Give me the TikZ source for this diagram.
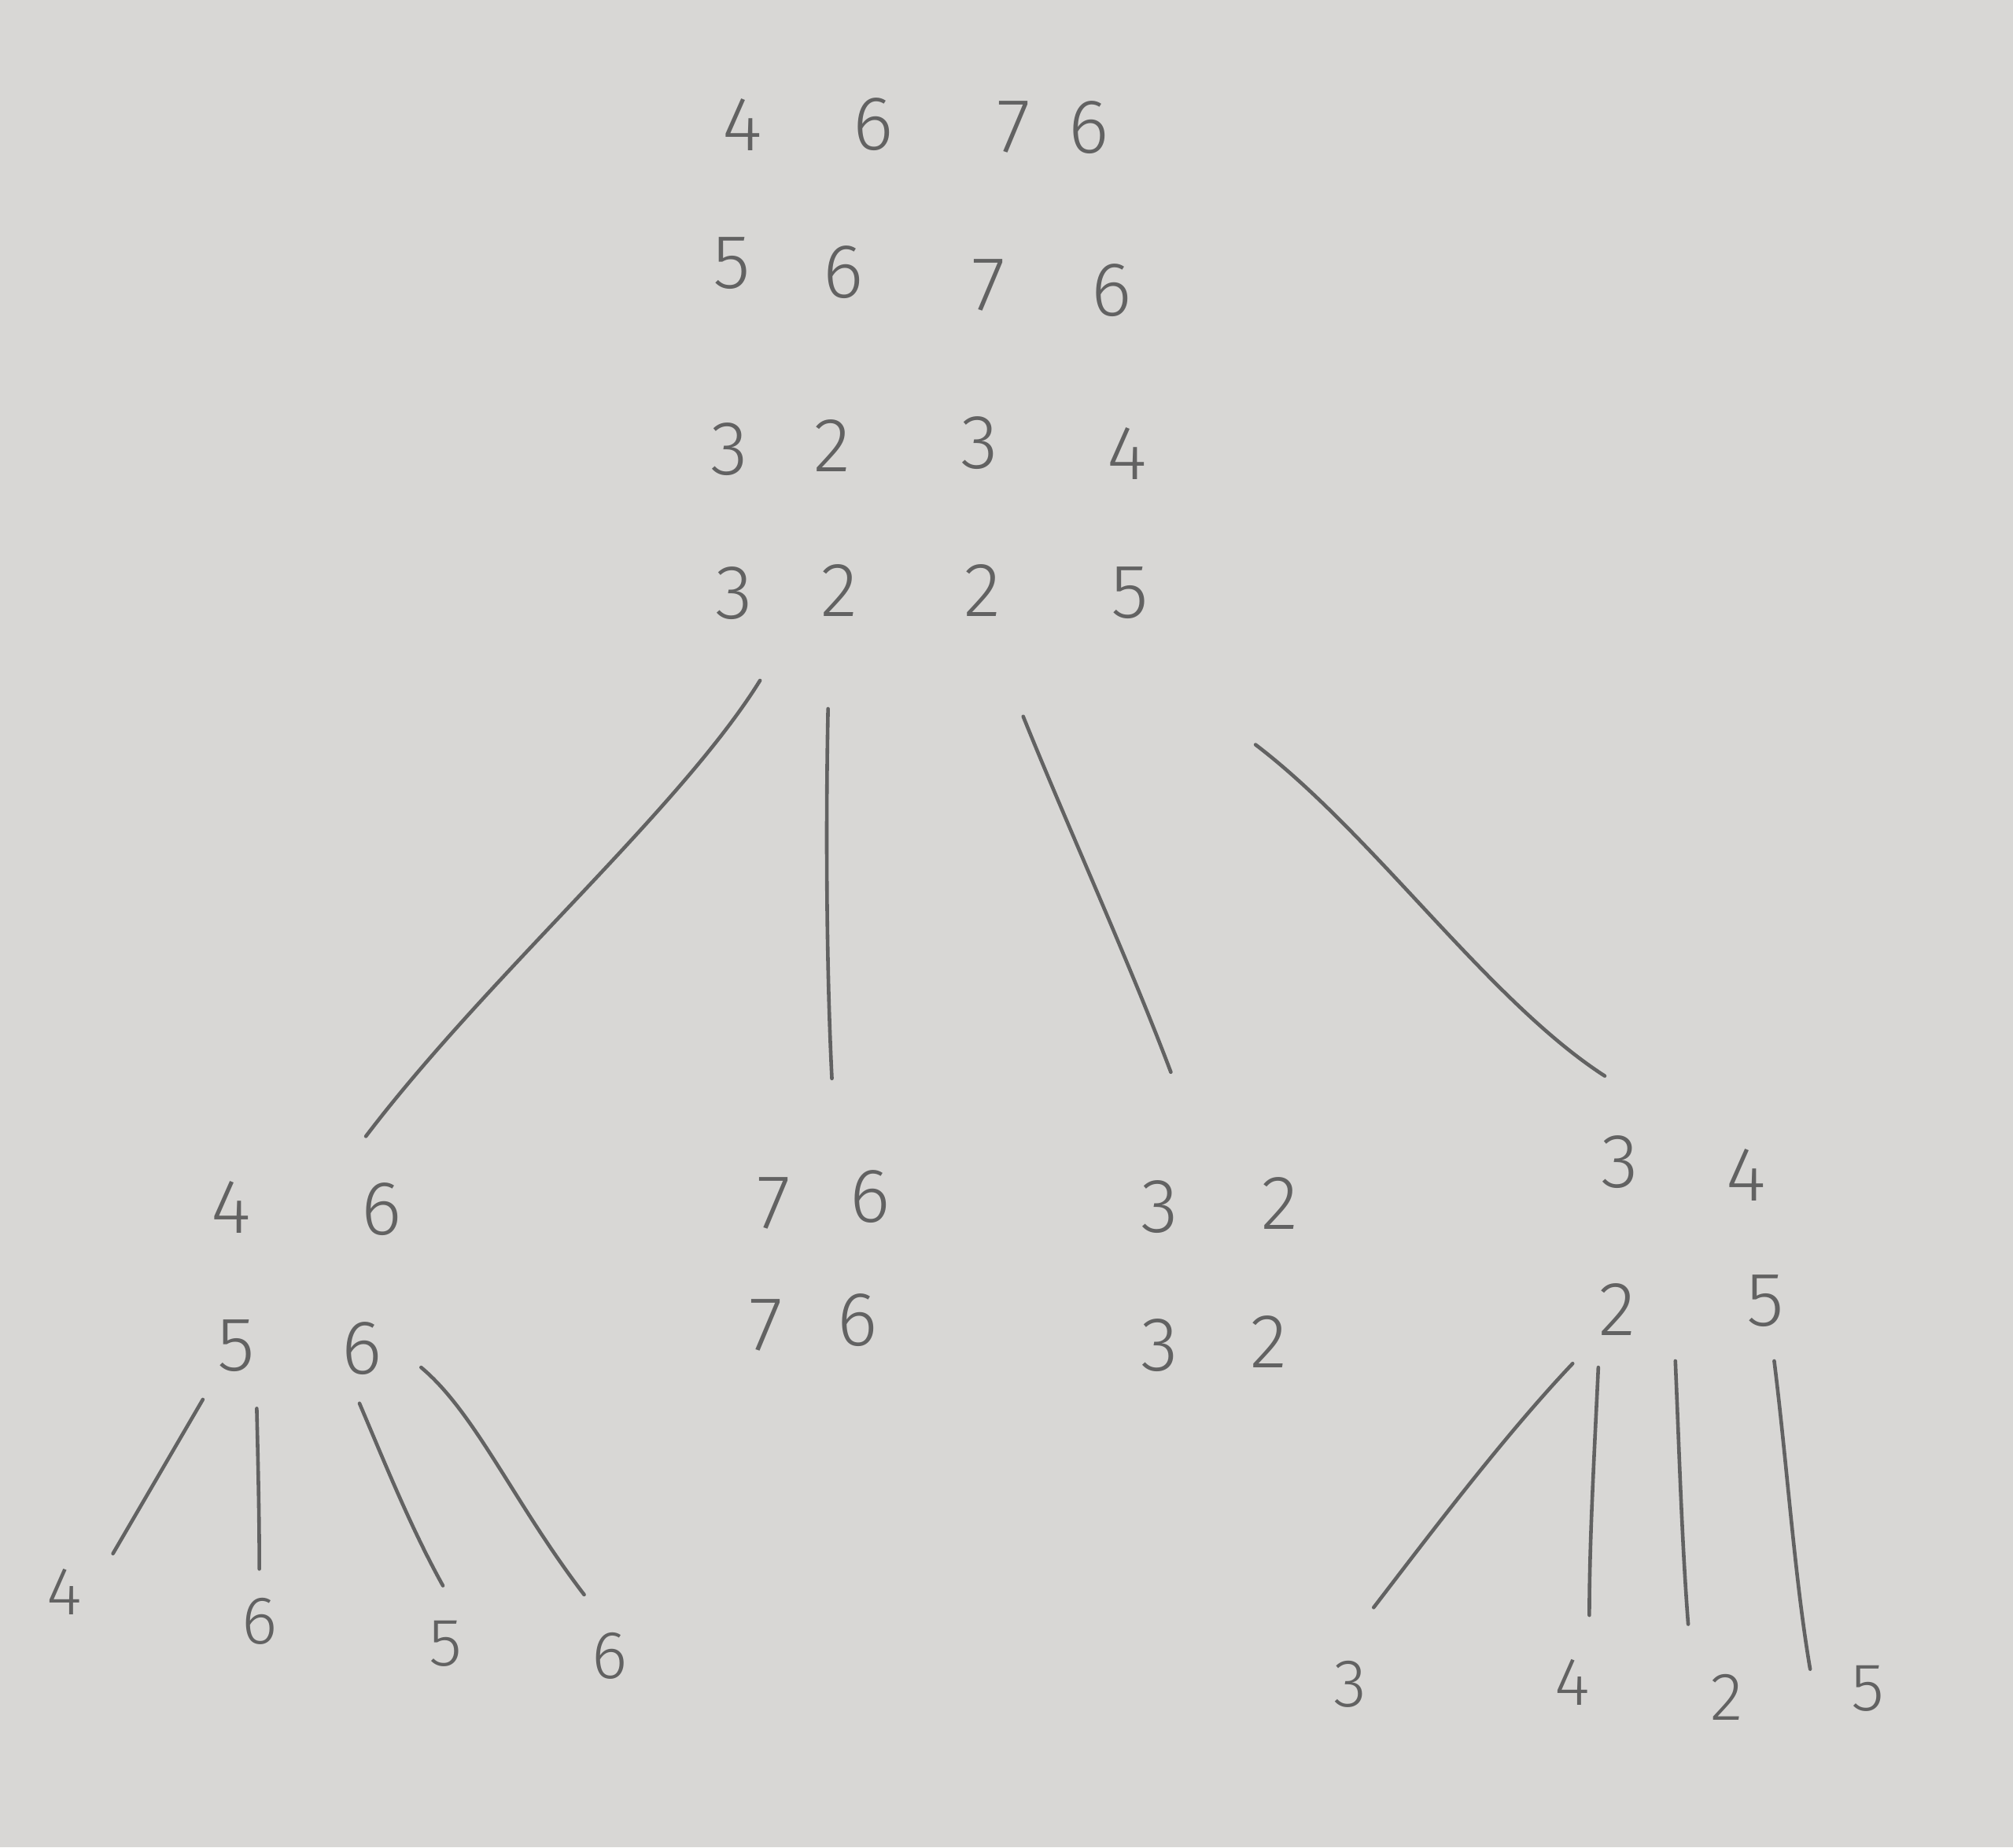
\documentclass[tikz,border=0pt]{standalone}
\usepackage{fontspec}
\setmainfont{Fira Sans Light}
\definecolor{paper}{HTML}{D8D7D5}
\definecolor{pencil}{HTML}{626262}
\begin{document}
\begin{tikzpicture}[x=0.01cm,y=-0.01cm,
  dig/.style={text=pencil,font=\fontsize{17}{17}\selectfont,inner sep=0pt},
  leaf/.style={text=pencil,font=\fontsize{15}{15}\selectfont,inner sep=0pt},
  edge/.style={draw=pencil,line width=0.8pt,line cap=round}]
\fill[paper] (0,0) rectangle (1568,1439);
\useasboundingbox (0,0) rectangle (1568,1439);
% root matrix
\node[dig] (r11) at (578,97) {4};
\node[dig] (r12) at (680,97) {6};
\node[dig] (r13) at (790,99) {7};
\node[dig] (r14) at (848,99) {6};
\node[dig] (r21) at (570,205) {5};
\node[dig] (r22) at (657,212) {6};
\node[dig] (r23) at (770,222) {7};
\node[dig] (r24) at (866,226) {6};
\node[dig] (r31) at (568,350) {3};
\node[dig] (r32) at (648,347) {2};
\node[dig] (r33) at (763,345) {3};
\node[dig] (r34) at (878,353) {4};
\node[dig] (r41) at (572,462) {3};
\node[dig] (r42) at (654,460) {2};
\node[dig] (r43) at (765,460) {2};
\node[dig] (r44) at (880,462) {5};
% child 1
\node[dig] (a11) at (180,940) {4};
\node[dig] (a12) at (297,942) {6};
\node[dig] (a21) at (184,1048) {5};
\node[dig] (a22) at (282,1050) {6};
% child 2
\node[dig] (b11) at (603,937) {7};
\node[dig] (b12) at (678,932) {6};
\node[dig] (b21) at (597,1032) {7};
\node[dig] (b22) at (668,1028) {6};
% child 3
\node[dig] (c11) at (903,940) {3};
\node[dig] (c12) at (997,937) {2};
\node[dig] (c21) at (903,1048) {3};
\node[dig] (c22) at (988,1045) {2};
% child 4
\node[dig] (d11) at (1262,905) {3};
\node[dig] (d12) at (1360,915) {4};
\node[dig] (d21) at (1260,1020) {2};
\node[dig] (d22) at (1375,1013) {5};
% leaves of child 1
\node[leaf] (e1) at (50,1240) {4};
\node[leaf] (e2) at (202,1263) {6};
\node[leaf] (e3) at (347,1280) {5};
\node[leaf] (e4) at (475,1290) {6};
% leaves of child 4
\node[leaf] (f1) at (1052,1312) {3};
\node[leaf] (f2) at (1225,1310) {4};
\node[leaf] (f3) at (1345,1322) {2};
\node[leaf] (f4) at (1455,1315) {5};
% connector end points
\coordinate (p1) at (592,530); \coordinate (q1) at (285,885);
\coordinate (p2) at (645,552); \coordinate (q2) at (648,840);
\coordinate (p3) at (797,558); \coordinate (q3) at (912,835);
\coordinate (p4) at (978,580); \coordinate (q4) at (1250,838);
\coordinate (s1) at (158,1090); \coordinate (t1) at (88,1210);
\coordinate (s2) at (200,1097); \coordinate (t2) at (202,1222);
\coordinate (s3) at (280,1093); \coordinate (t3) at (345,1235);
\coordinate (s4) at (328,1065); \coordinate (t4) at (455,1242);
\coordinate (u1) at (1225,1062); \coordinate (v1) at (1070,1252);
\coordinate (u2) at (1245,1065); \coordinate (v2) at (1238,1258);
\coordinate (u3) at (1305,1060); \coordinate (v3) at (1315,1265);
\coordinate (u4) at (1382,1060); \coordinate (v4) at (1410,1300);
% root connectors
\draw[edge] (p1) .. controls (530,630) and (380,760) .. (q1);
\draw[edge] (p2) .. controls (643,650) and (644,760) .. (q2);
\draw[edge] (p3) .. controls (830,640) and (880,750) .. (q3);
\draw[edge] (p4) .. controls (1070,650) and (1160,780) .. (q4);
% child 1 connectors
\draw[edge] (s1) -- (t1);
\draw[edge] (s2) .. controls (201,1140) and (202,1180) .. (t2);
\draw[edge] (s3) .. controls (300,1140) and (320,1190) .. (t3);
\draw[edge] (s4) .. controls (370,1100) and (400,1170) .. (t4);
% child 4 connectors
\draw[edge] (u1) .. controls (1170,1120) and (1110,1200) .. (v1);
\draw[edge] (u2) .. controls (1242,1130) and (1238,1200) .. (v2);
\draw[edge] (u3) .. controls (1308,1130) and (1310,1200) .. (v3);
\draw[edge] (u4) .. controls (1392,1140) and (1398,1230) .. (v4);
\end{tikzpicture}
\end{document}
